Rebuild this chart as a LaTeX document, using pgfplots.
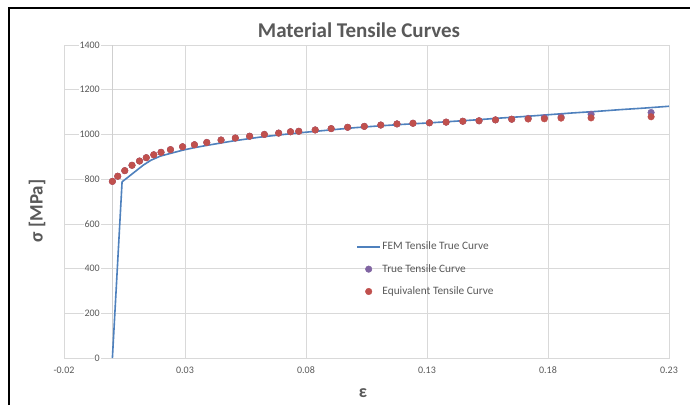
\documentclass[border=0pt]{standalone}
\usepackage{fontspec}
\setmainfont{Carlito}
\usepackage{pgfplots}
\pgfplotsset{compat=1.18}
\definecolor{fem}{HTML}{4F81BD}
\definecolor{truec}{HTML}{8064A2}
\definecolor{eqc}{HTML}{C0504D}
\definecolor{gridc}{HTML}{D9D9D9}
\definecolor{axc}{HTML}{CFCFCF}
\definecolor{txt}{HTML}{595959}

\pgfplotsset{
  lineleg/.style={legend image code/.code={\draw[##1, line width=1.6pt] (0pt,0pt) -- (23pt,0pt);}},
  dotleg/.style={legend image code/.code={\draw[##1] plot coordinates {(11.5pt,0pt)};}},
}

\pgfplotstableread{
x y
0 0
0.004 788
0.008 822
0.0128 863
0.016 885
0.0198 903
0.025 918
0.0292 930
0.034 941
0.039 951
0.045 962
0.050 971
0.061 988
0.070 999
0.080 1010
0.090 1020
0.100 1030
0.110 1038
0.120 1045
0.130 1051
0.140 1058
0.150 1065
0.160 1073
0.170 1080
0.180 1088
0.190 1096
0.200 1103
0.210 1111
0.220 1118
0.230 1126
}\femdata

\pgfplotstableread{
x y
0 790
0.0022 813
0.0051 838
0.0081 862
0.0112 881
0.0140 896
0.0171 909
0.0201 920
0.0240 932
0.0290 945
0.0339 954
0.0390 964
0.0449 975
0.0508 984
0.0567 992
0.0628 1000
0.0687 1006
0.0736 1012
0.0770 1014
0.0838 1020
0.0904 1026
0.0972 1032
0.1041 1036
0.1109 1042
0.1176 1047
0.1242 1050
0.1310 1052
0.1379 1055
0.1448 1059
0.1515 1061
0.1583 1065
0.1650 1068
0.1718 1072
0.1785 1075
0.1854 1078
0.1978 1090
0.2226 1098
}\truedata

\pgfplotstableread{
x y
0 790
0.0022 813
0.0051 838
0.0081 862
0.0112 881
0.0140 896
0.0171 909
0.0201 920
0.0240 932
0.0290 945
0.0339 954
0.0390 964
0.0449 975
0.0508 984
0.0567 992
0.0628 1000
0.0687 1006
0.0736 1012
0.0770 1014
0.0838 1020
0.0904 1026
0.0972 1032
0.1041 1036
0.1109 1042
0.1176 1047
0.1242 1050
0.1310 1052
0.1379 1055
0.1448 1059
0.1515 1061
0.1583 1065
0.1650 1068
0.1718 1069
0.1785 1070
0.1854 1073
0.1978 1074
0.2226 1079
}\eqdata

\begin{document}
\begin{tikzpicture}[x=1pt,y=1pt]
\useasboundingbox (0,0) rectangle (690,405);
\fill[white] (0,0) rectangle (690,405);
\draw[black, line width=2pt] (9,0) -- (9,397) -- (690,397);
\node[font=\bfseries\fontsize{21}{25}\selectfont, text=txt] at (359,375) {Material Tensile Curves};
\node[font=\bfseries\fontsize{19}{22}\selectfont, text=txt, rotate=90] at (37,194) {σ [MPa]};
\node[font=\bfseries\fontsize{18}{21}\selectfont, text=txt] at (363,12) {ε};
\begin{axis}[
  at={(64pt,47pt)}, anchor=south west,
  scale only axis, width=605pt, height=313pt,
  xmin=-0.02, xmax=0.23, ymin=0, ymax=1400,
  xtick={-0.02,0.03,0.08,0.13,0.18,0.23},
  xticklabels={-0.02,0.03,0.08,0.13,0.18,0.23},
  ytick={0,200,400,600,800,1000,1200,1400},
  yticklabels={0,200,400,600,800,1000,1200,1400},
  major tick length=0pt,
  grid=major,
  grid style={gridc, line width=0.6pt},
  axis line style={gridc, line width=0.6pt},
  tick label style={font=\fontsize{10}{11}\selectfont, text=txt},
  yticklabel style={anchor=east, xshift=37pt, fill=white, inner sep=1pt},
  xticklabel style={yshift=-5pt},
  /pgf/number format/assume math mode=true,
  legend style={at={(0.478,0.382)}, anchor=north west, draw=none, fill=none,
    font=\fontsize{11.3}{12.5}\selectfont, text=txt, row sep=10pt,
    nodes={inner sep=1.5pt}},
  legend cell align=left,
  clip=false,
]
\draw[axc, line width=0.7pt] (axis cs:0,0) -- (axis cs:0,1400);
\addplot[fem, line width=1.6pt, mark=none, lineleg]
  table[x=x,y=y] {\femdata};
\addlegendentry{FEM Tensile True Curve}
\addplot[only marks, mark=*, mark size=3.3pt, truec, mark options={draw=truec, fill=truec}, dotleg]
  table[x=x,y=y] {\truedata};
\addlegendentry{True Tensile Curve}
\addplot[only marks, mark=*, mark size=3.3pt, eqc, mark options={draw=eqc, fill=eqc}, dotleg]
  table[x=x,y=y] {\eqdata};
\addlegendentry{Equivalent Tensile Curve}
\end{axis}
\end{tikzpicture}
\end{document}
